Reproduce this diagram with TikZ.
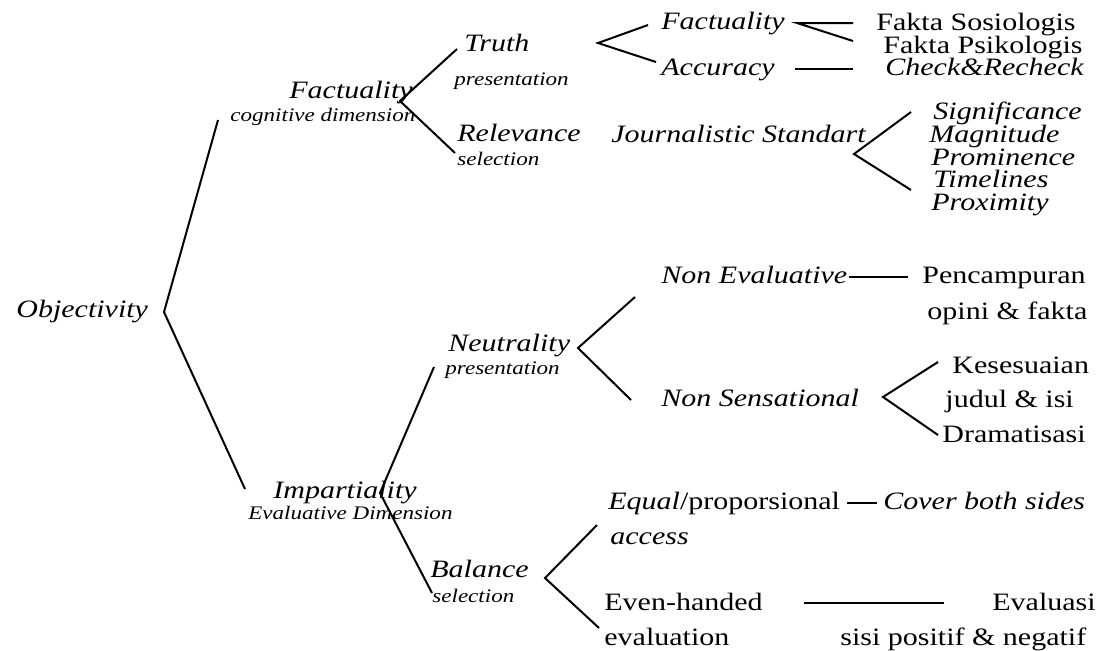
\documentclass[tikz,border=0pt]{standalone}
\usepackage{fontspec}
\setmainfont{Liberation Serif}[FakeStretch=1.2]
\usepackage{tikz}
\usetikzlibrary{positioning}
\newcommand\lblsize{\fontsize{12.5}{15}\selectfont}
\newcommand\subsize{\fontsize{9.6}{11.5}\selectfont}
\begin{document}
\begin{tikzpicture}[
  x=0.5pt, y=-0.5pt,
  lbl/.style={font=\lblsize\itshape, anchor=mid west, inner sep=0pt, yshift=-1.5pt},
  lblup/.style={font=\lblsize, anchor=mid west, inner sep=0pt, yshift=-1.5pt},
  sub/.style={font=\subsize\itshape, anchor=mid west, inner sep=0pt, yshift=-1pt},
  br/.style={draw=black, line width=1pt},
]
  \useasboundingbox[fill=white] (0,0) rectangle (1097,650);

  \node[lbl] (obj) at (16,310) {Objectivity};
  \node[lbl] (fac) at (289,91) {Factuality};
  \node[sub] (cog) at (230,115) {cognitive dimension};
  \node[lbl] (imp) at (273,491) {Impartiality};
  \node[sub] (evd) at (248,513) {Evaluative Dimension};

  \node[lbl] (tru) at (464,44) {Truth};
  \node[sub] (trp) at (454,79) {presentation};
  \node[lbl] (rel) at (457,134) {Relevance};
  \node[sub] (rls) at (457,159) {selection};
  \node[lbl] (neu) at (448,344) {Neutrality};
  \node[sub] (nep) at (445,368) {presentation};
  \node[lbl] (bal) at (430,570) {Balance};
  \node[sub] (bas) at (432,596) {selection};

  \node[lbl] (fa2) at (661,22) {Factuality};
  \node[lbl] (acc) at (661,68) {Accuracy};
  \node[lblup] (fso) at (876,23) {Fakta Sosiologis};
  \node[lblup] (fps) at (883,46) {Fakta Psikologis};
  \node[lbl] (chk) at (885,68) {Check\&Recheck};

  \node[lbl] (jst) at (611,135) {Journalistic Standart};
  \node[lbl] (sig) at (933,112) {Significance};
  \node[lbl] (mag) at (929,135) {Magnitude};
  \node[lbl] (pro) at (931,158) {Prominence};
  \node[lbl] (tim) at (933,180) {Timelines};
  \node[lbl] (prx) at (931,203) {Proximity};

  \node[lbl] (nev) at (661,276) {Non Evaluative};
  \node[lblup] (pen) at (922,276) {Pencampuran};
  \node[lblup] (opi) at (927,312) {opini \& fakta};
  \node[lbl] (nse) at (661,399) {Non Sensational};
  \node[lblup] (kes) at (952,366) {Kesesuaian};
  \node[lblup] (jud) at (945,400) {judul \& isi};
  \node[lblup] (dra) at (942,435) {Dramatisasi};

  \node[lblup] (equ) at (608,502) {\textit{Equal}/proporsional};
  \node[lbl] (cov) at (883,502) {Cover both sides};
  \node[lbl] (acs) at (610,537) {access};
  \node[lblup] (eve) at (604,603) {Even-handed};
  \node[lblup] (evl) at (604,638) {evaluation};
  \node[lblup] (eva) at (992,603) {Evaluasi};
  \node[lblup] (sis) at (840,638) {sisi positif \& negatif};

  \coordinate (ob) at (164,312);
  \coordinate (ob1) at (218,120);
  \coordinate (ob2) at (245,489);
  \coordinate (fa) at (400,101);
  \coordinate (fa1) at (457,49);
  \coordinate (fa3) at (455,153);
  \coordinate (im) at (380,493);
  \coordinate (im1) at (434,367);
  \coordinate (im2) at (432,593);
  \coordinate (tr) at (598,43);
  \coordinate (tr1) at (648,25);
  \coordinate (tr2) at (656,62);
  \coordinate (fq) at (797,23);
  \coordinate (fq1) at (853,23);
  \coordinate (fq2) at (853,41);
  \coordinate (ac1) at (795,69);
  \coordinate (ac2) at (853,69);
  \coordinate (js) at (854,154);
  \coordinate (js1) at (911,112);
  \coordinate (js2) at (911,190);
  \coordinate (nt) at (578,348);
  \coordinate (nt1) at (635,297);
  \coordinate (nt2) at (631,400);
  \coordinate (ne1) at (849,277);
  \coordinate (ne2) at (908,277);
  \coordinate (ns) at (883,397);
  \coordinate (ns1) at (938,362);
  \coordinate (ns2) at (938,435);
  \coordinate (ba) at (545,578);
  \coordinate (ba1) at (597,525);
  \coordinate (ba2) at (599,628);
  \coordinate (eq1) at (847,503);
  \coordinate (eq2) at (877,503);
  \coordinate (ev1) at (804,603);
  \coordinate (ev2) at (944,603);

  \draw[br] (ob1) -- (ob) -- (ob2);
  \draw[br] (fa1) -- (fa) -- (fa3);
  \draw[br] (im1) -- (im) -- (im2);
  \draw[br] (tr1) -- (tr) -- (tr2);
  \draw[br] (fq1) -- (fq) -- (fq2);
  \draw[br] (ac1) -- (ac2);
  \draw[br] (js1) -- (js) -- (js2);
  \draw[br] (nt1) -- (nt) -- (nt2);
  \draw[br] (ne1) -- (ne2);
  \draw[br] (ns1) -- (ns) -- (ns2);
  \draw[br] (ba1) -- (ba) -- (ba2);
  \draw[br] (eq1) -- (eq2);
  \draw[br] (ev1) -- (ev2);
\end{tikzpicture}
\end{document}
